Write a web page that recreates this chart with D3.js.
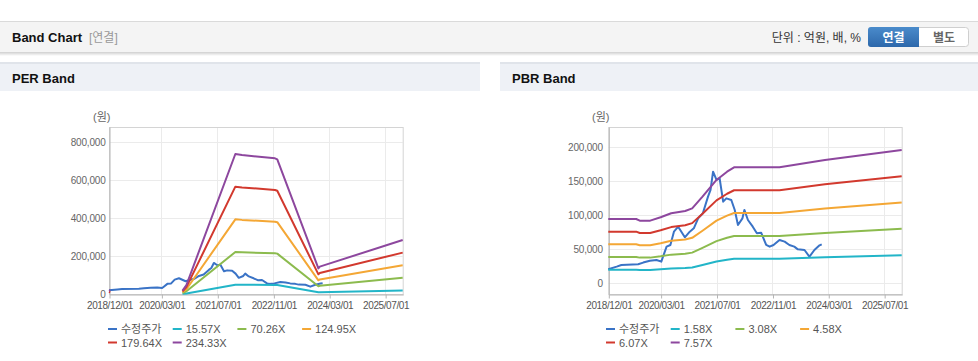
<!DOCTYPE html>
<html>
<head>
<meta charset="utf-8">
<script src="https://cdn.jsdelivr.net/npm/d3@7"></script>
<style>
body { margin: 0; background: #fff; }
svg { display: block; font-family: "Liberation Sans", Arial, "Noto Sans CJK KR", sans-serif; }
</style>
</head>
<body>
<svg id="chart" width="978" height="361"></svg>
<script>
// ---- data ----
const seriesNamesPer = ["수정주가", "15.57X", "70.26X", "124.95X", "179.64X", "234.33X"];
const seriesNamesPbr = ["수정주가", "1.58X", "3.08X", "4.58X", "6.07X", "7.57X"];
const lineColors = ["#3a73c6", "#22b5c8", "#8cbb4e", "#f4a735", "#d2392e", "#8d479e"];
const xTickDates = ["2018-12-01", "2020-03-01", "2021-07-01", "2022-11-01", "2024-03-01", "2025-07-01"];
const xStart = "2018-12-01", xEnd = "2025-12-01";

// adjusted share price (won)
const priceDates = ["2018-12-01","2019-02-12","2019-03-25","2019-08-18","2019-10-01","2019-11-28","2020-01-25",
  "2020-03-07","2020-03-22","2020-04-22","2020-05-25","2020-06-25","2020-08-01","2020-09-28","2020-11-10",
  "2020-12-15","2021-01-22","2021-03-04","2021-04-18","2021-05-10","2021-06-01","2021-07-01","2021-07-28",
  "2021-08-28","2021-09-25","2021-11-07","2021-12-07","2022-01-04","2022-02-12","2022-03-01","2022-04-01",
  "2022-05-13","2022-06-18","2022-07-25","2022-09-07","2022-10-07","2022-11-10","2023-01-01","2023-02-15",
  "2023-03-28","2023-05-10","2023-06-10","2023-08-07","2023-09-19","2023-11-01","2023-12-16","2024-01-04"];
const priceValues = [20100,24000,26500,27500,30000,32800,33800,
  31400,38700,53400,55900,75500,82800,67200,75500,
  80400,95100,102500,127000,136800,163700,151500,154000,
  119600,124500,122100,107400,85300,95100,107400,92600,
  82800,73000,74000,55900,53400,55900,63200,60800,
  55900,53400,49500,48500,38700,48500,55400,56900];

// PER band lines
const perBandDates = ["2018-12-01","2018-12-12","2019-01-01","2020-09-01","2020-10-05","2021-12-05","2022-02-01",
  "2022-11-15","2022-12-05","2023-11-28","2023-12-10","2025-12-01"];
const per1557 = [null,null,null,1170,3150,49010,48670,47500,47150,8980,9580,18900];
const per7026 = [null,null,null,5270,14190,221180,219630,214360,212750,40540,43210,85300];
const per12495 = [null,null,null,9370,25240,393340,390590,381220,378350,72100,76840,151690];
const per17964 = [12000,9000,null,13470,36290,565500,561550,548080,543950,103650,110480,218080];
const per23433 = [20000,17000,null,17600,47300,737700,732500,714900,709600,135200,144100,284500];

// PBR band lines
const pbrBandDates = ["2018-12-01","2019-08-01","2019-09-01","2019-12-01","2020-03-01","2020-06-01","2020-10-01",
  "2020-12-01","2021-03-01","2021-07-01","2021-10-01","2021-12-01","2023-01-01","2024-02-01","2025-12-01"];
const pbr158 = [19640,19640,19130,19130,20160,21390,22100,22910,26510,31620,34160,35500,35500,37760,40830];
const pbr308 = [38280,38280,37300,37300,39300,41700,43090,44660,51680,61630,66590,69210,69210,73610,79590];
const pbr458 = [56930,56930,55460,55460,58440,62010,64070,66410,76850,91650,99020,102910,102910,109460,118350];
const pbr607 = [75450,75450,73510,73510,77450,82190,84920,88020,101850,121460,131230,136390,136390,145070,156850];
const pbr757 = [94100,94100,91700,91700,96600,102500,105900,109800,127000,151500,163700,170100,170100,180900,195600];

const perYTicks = [0, 200000, 400000, 600000, 800000];
const pbrYTicks = [0, 50000, 100000, 150000, 200000];

// ---- drawing ----
const parse = d3.timeParse("%Y-%m-%d");
const fmtDate = d3.timeFormat("%Y/%m/%d");
const svg = d3.select("#chart");
const defs = svg.append("defs");

// top header band
const sh = defs.append("linearGradient").attr("id", "shadow").attr("x1", 0).attr("x2", 0).attr("y1", 0).attr("y2", 1);
sh.append("stop").attr("offset", 0).attr("stop-color", "#cfcfcf");
sh.append("stop").attr("offset", 1).attr("stop-color", "#ffffff");
svg.append("rect").attr("x", 0).attr("y", 21).attr("width", 978).attr("height", 1).attr("fill", "#dadada");
svg.append("rect").attr("x", 0).attr("y", 22).attr("width", 978).attr("height", 30).attr("fill", "#f4f4f4");
svg.append("rect").attr("x", 0).attr("y", 52).attr("width", 978).attr("height", 4).attr("fill", "url(#shadow)");
svg.append("text").attr("x", 12).attr("y", 42).attr("font-size", 13).attr("font-weight", "bold")
  .attr("fill", "#111").text("Band Chart");
svg.append("text").attr("x", 89).attr("y", 42).attr("font-size", 12).attr("fill", "#999").text("[연결]");
svg.append("text").attr("x", 861).attr("y", 42).attr("font-size", 12).attr("text-anchor", "end")
  .attr("fill", "#333").text("단위 : 억원, 배, %");

const bg = defs.append("linearGradient").attr("id", "btn").attr("x1", 0).attr("x2", 0).attr("y1", 0).attr("y2", 1);
bg.append("stop").attr("offset", 0).attr("stop-color", "#4a8bcb");
bg.append("stop").attr("offset", 1).attr("stop-color", "#2d68ab");
svg.append("rect").attr("x", 868.5).attr("y", 27.5).attr("width", 100).attr("height", 19).attr("rx", 3)
  .attr("fill", "#fff").attr("stroke", "#cfcfcf");
svg.append("rect").attr("x", 868).attr("y", 27).attr("width", 51).attr("height", 20).attr("rx", 3).attr("fill", "url(#btn)");
svg.append("rect").attr("x", 914).attr("y", 27).attr("width", 5).attr("height", 20).attr("fill", "url(#btn)");
svg.append("text").attr("x", 893.5).attr("y", 41.5).attr("text-anchor", "middle").attr("font-size", 12)
  .attr("font-weight", "bold").attr("fill", "#fff").text("연결");
svg.append("text").attr("x", 944).attr("y", 41.5).attr("text-anchor", "middle").attr("font-size", 12)
  .attr("font-weight", "bold").attr("fill", "#666").text("별도");

// panel headers
[[0, 480, "PER Band"], [500, 478, "PBR Band"]].forEach(([px, pw, title]) => {
  svg.append("rect").attr("x", px).attr("y", 62).attr("width", pw).attr("height", 2).attr("fill", "#e0e4ea");
  svg.append("rect").attr("x", px).attr("y", 64).attr("width", pw).attr("height", 27).attr("fill", "#eef1f6");
  svg.append("text").attr("x", px + 12).attr("y", 83).attr("font-size", 13).attr("font-weight", "bold")
    .attr("fill", "#111").text(title);
});

const plotTop = 127, plotBottom = 294;

function drawPanel(cfg) {
  const x = d3.scaleTime().domain([parse(xStart), parse(xEnd)]).range([cfg.left, cfg.right]);
  const y = d3.scaleLinear().domain(cfg.yDomain).range([plotBottom, plotTop]);
  const g = svg.append("g");

  g.selectAll(".hgrid").data(cfg.yTicks).join("line")
    .attr("x1", cfg.left).attr("x2", cfg.right)
    .attr("y1", d => Math.round(y(d)) + 0.5).attr("y2", d => Math.round(y(d)) + 0.5)
    .attr("stroke", "#ebebeb");
  g.selectAll(".vgrid").data(xTickDates.slice(1)).join("line")
    .attr("x1", d => Math.round(x(parse(d))) + 0.5).attr("x2", d => Math.round(x(parse(d))) + 0.5)
    .attr("y1", plotTop).attr("y2", plotBottom)
    .attr("stroke", "#ebebeb");
  g.append("rect").attr("x", cfg.left + 0.5).attr("y", plotTop + 0.5)
    .attr("width", cfg.right - cfg.left).attr("height", plotBottom - plotTop)
    .attr("fill", "none").attr("stroke", "#d4d4d4");

  const xAxis = g.append("g").attr("transform", `translate(0.5,${plotBottom + 0.5})`)
    .call(d3.axisBottom(x).tickValues(xTickDates.map(parse)).tickFormat(fmtDate).tickSize(4).tickPadding(3).tickSizeOuter(0));
  xAxis.select(".domain").attr("stroke", "#b5b5b5");
  xAxis.selectAll(".tick line").attr("stroke", "#b5b5b5");
  xAxis.selectAll("text").attr("fill", "#555").attr("font-size", 10).attr("letter-spacing", "-0.4px")
    .attr("font-family", null);

  const yAxis = g.append("g").attr("transform", `translate(${cfg.left + 0.5},0)`)
    .call(d3.axisLeft(y).tickValues(cfg.yTicks).tickFormat(d3.format(",")).tickSize(0).tickPadding(cfg.yPad));
  yAxis.select(".domain").attr("stroke", "#b5b5b5");
  yAxis.selectAll("text").attr("fill", "#666").attr("font-size", 10).attr("letter-spacing", "-0.2px")
    .attr("font-family", null);
  g.selectAll(".tick").attr("font-family", null);
  xAxis.attr("font-family", null); yAxis.attr("font-family", null);

  g.append("text").attr("x", cfg.unitX).attr("y", 121).attr("font-size", 11).attr("fill", "#666").text("(원)");

  const line = d3.line()
    .defined(d => d.v != null)
    .x(d => x(d.t))
    .y(d => y(d.v));

  cfg.series.forEach((s, i) => {
    const pts = s.dates.map((d, k) => ({ t: parse(d), v: s.values[k] }));
    g.append("path").datum(pts)
      .attr("d", line)
      .attr("fill", "none")
      .attr("stroke", lineColors[i])
      .attr("stroke-width", 2)
      .attr("stroke-linejoin", "round");
  });

  const legend = g.selectAll(".leg").data(cfg.names).join("g")
    .attr("transform", (d, i) => `translate(${cfg.legendX + (i % 4) * 64.7},${329 + Math.floor(i / 4) * 13.5})`);
  legend.append("line").attr("x1", 0).attr("x2", 9).attr("y1", 0).attr("y2", 0)
    .attr("stroke", (d, i) => lineColors[i]).attr("stroke-width", 2);
  legend.append("text").attr("x", 13).attr("y", 4).attr("font-size", 11).attr("fill", "#555").text(d => d);
}

drawPanel({
  left: 109, right: 402.7, yDomain: [0, 880000], yTicks: perYTicks, yPad: 4,
  unitX: 93, legendX: 108, names: seriesNamesPer,
  series: [
    { dates: priceDates, values: priceValues },
    { dates: perBandDates, values: per1557 },
    { dates: perBandDates, values: per7026 },
    { dates: perBandDates, values: per12495 },
    { dates: perBandDates, values: per17964 },
    { dates: perBandDates, values: per23433 }
  ]
});

drawPanel({
  left: 608.3, right: 901.7, yDomain: [-16200, 229400], yTicks: pbrYTicks, yPad: 6,
  unitX: 592, legendX: 606, names: seriesNamesPbr,
  series: [
    { dates: priceDates, values: priceValues },
    { dates: pbrBandDates, values: pbr158 },
    { dates: pbrBandDates, values: pbr308 },
    { dates: pbrBandDates, values: pbr458 },
    { dates: pbrBandDates, values: pbr607 },
    { dates: pbrBandDates, values: pbr757 }
  ]
});
</script>
</body>
</html>
